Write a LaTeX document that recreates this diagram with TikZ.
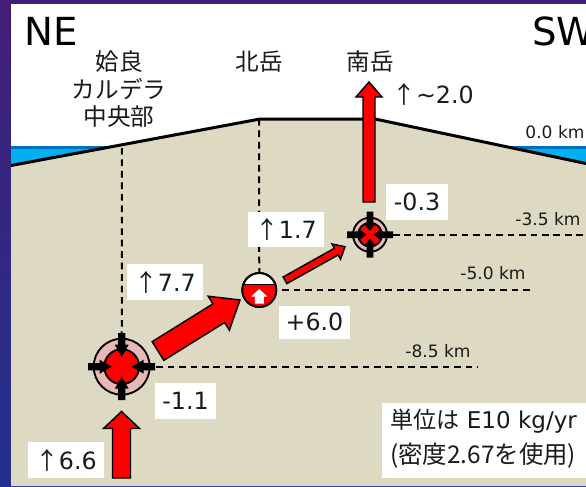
\documentclass[tikz,border=0pt]{standalone}
\usepackage{fontspec}
\setmainfont{DejaVu Sans}
\newfontfamily\jafont{Noto Sans CJK JP}
\usetikzlibrary{calc}
\definecolor{ground}{HTML}{DDD9C3}
\definecolor{sea}{HTML}{00B0F0}
\definecolor{seatop}{HTML}{0070C0}
\definecolor{ringpink}{HTML}{E6B9B8}
\definecolor{inktext}{HTML}{1A1A1A}
\definecolor{backtop}{HTML}{421E78}
\definecolor{backbottom}{HTML}{21308C}
\newcommand{\upmark}{{\jafont ↑}}
\tikzset{
  x=0.75pt, y=-0.75pt,
  surface/.style={line width=3pt*0.75, draw=black},
  depthline/.style={draw=black, line width=1.5pt, dash pattern=on 5pt off 3.6pt},
  valuebox/.style={fill=white, inner sep=0pt, text=inktext, font=\fontsize{17.8}{20}\selectfont, anchor=center},
  peak/.style={text=inktext, font=\jafont\fontsize{17.7}{20}\selectfont, inner sep=0pt, anchor=center},
  depthlabel/.style={text=inktext, font=\fontsize{12.8}{14}\selectfont, inner sep=0pt, anchor=center},
  compass/.style={text=black, font=\fontsize{29}{31}\selectfont, inner sep=0pt, anchor=base west},
  flowarrow/.style={draw=black, fill=red, line width=1.1pt, line join=miter},
  squeeze/.style={draw=none, fill=black},
  chamberline/.style={draw=black, line width=1.4pt},
}
% Block arrow between two named points: shaft half width, head half width, head length
\newcommand{\blockarrow}[6][flowarrow]{%
  \coordinate (hb) at ($(#3)!#6*0.75pt!(#2)$);
  \path[#1] ($(#2)!#4*0.75pt!90:(#3)$) -- ($(hb)!#4*0.75pt!90:(#3)$) -- ($(hb)!#5*0.75pt!90:(#3)$) -- (#3)
    -- ($(hb)!#5*0.75pt!-90:(#3)$) -- ($(hb)!#4*0.75pt!-90:(#3)$) -- ($(#2)!#4*0.75pt!-90:(#3)$) -- cycle;
}
% Four black arrows pressing inwards on a named chamber
\newcommand{\pressure}[6]{%
  \foreach \ang in {0,90,180,270} {
    \coordinate (po) at ($(#1)+(\ang:#2)$);
    \coordinate (pi) at ($(#1)+(\ang:#3)$);
    \blockarrow[squeeze]{po}{pi}{#4}{#5}{#6}
  }
}
\begin{document}
\begin{tikzpicture}
\useasboundingbox (0,0) rectangle (586,486);
% slide backdrop
\shade[top color=backtop, bottom color=backbottom] (0,0) rectangle (586,486);
\fill[white] (11,4) rectangle (586,486);
% sea on both flanks
\fill[sea] (11,146) rectangle (140,170);
\fill[sea] (500,146) rectangle (586,175);
\fill[seatop] (11,146) rectangle (125,148.5);
\fill[seatop] (500,146) rectangle (586,148.5);
% ground and its surface
\coordinate (gl) at (11,165.5);
\coordinate (gm1) at (260,119);
\coordinate (gm2) at (375,119);
\coordinate (gr) at (586,163.5);
\fill[ground] (gl) -- (gm1) -- (gm2) -- (gr) -- (586,486) -- (11,486) -- cycle;
\draw[surface] (gl) -- (gm1) -- (gm2) -- (gr);

% named centres
\coordinate (deep) at (121.7,366.7);
\coordinate (mid) at (259.3,290);
\coordinate (shallow) at (370,234.7);
\coordinate (caldtop) at (122,148);
\coordinate (kitatop) at (259,119);
\coordinate (end85) at (478,366.7);
\coordinate (end50) at (530,290);
\coordinate (end35) at (586,234.7);

% depth lines
\draw[depthline] (caldtop) -- (deep);
\draw[depthline] (kitatop) -- (mid);
\draw[depthline] (deep) -- (end85);
\draw[depthline] (mid) -- (end50);
\draw[depthline] (shallow) -- (end35);

% chamber under the caldera
\node[circle, minimum size=56pt*0.75, inner sep=0pt, fill=ringpink, chamberline] (deepring) at (deep) {};
\node[circle, minimum size=35pt*0.75, inner sep=0pt, fill=red, chamberline] (deepcore) at (deep) {};
\pressure{deep}{33.5}{10}{3.6}{7}{12}

% chamber under Kitadake: half empty, with a rising white arrow
\node[circle, minimum size=34pt*0.75, inner sep=0pt, fill=white, chamberline] (midc) at (mid) {};
\begin{scope}
  \clip (mid) circle (17);
  \fill[red] (240,284.3) rectangle (280,310);
  \draw[black, line width=1pt] (240,284.3) -- (280,284.3);
\end{scope}
\draw[chamberline] (mid) circle (17);
\coordinate (wa) at (259.3,303.5);
\coordinate (wb) at (259.3,289);
\blockarrow[{fill=white}]{wa}{wb}{4.5}{8}{7.5}

% chamber under Minamidake
\node[circle, minimum size=34pt*0.75, inner sep=0pt, fill=ringpink, chamberline] (shring) at (shallow) {};
\node[circle, minimum size=24pt*0.75, inner sep=0pt, fill=red, chamberline] (shcore) at (shallow) {};
\pressure{shallow}{23}{3.8}{3.4}{5.6}{7}

% mass-flow arrows
\coordinate (in1) at (121.5,478);
\coordinate (in2) at (121.5,411.5);
\blockarrow{in1}{in2}{9}{18}{17}
\coordinate (a1) at (158,351);
\coordinate (a2) at (240,300);
\blockarrow{a1}{a2}{11}{20}{25}
\coordinate (b1) at (285,280.3);
\coordinate (b2) at (345,246.7);
\blockarrow{b1}{b2}{3.8}{8.7}{10}
\coordinate (c1) at (369,202);
\coordinate (c2) at (369,82);
\blockarrow{c1}{c2}{6}{13}{15}

% value boxes
\node[valuebox, minimum width=76pt*0.75, minimum height=36pt*0.75] (v66) at (66,460) {\upmark 6.6};
\node[valuebox, minimum width=61pt*0.75, minimum height=36pt*0.75] (v11) at (185.5,401) {-1.1};
\node[valuebox, minimum width=76pt*0.75, minimum height=36pt*0.75] (v77) at (165,282) {\upmark 7.7};
\node[valuebox, minimum width=71pt*0.75, minimum height=33pt*0.75] (v60) at (314.5,322) {+6.0};
\node[valuebox, minimum width=76pt*0.75, minimum height=35pt*0.75] (v17) at (286,229.5) {\upmark 1.7};
\node[valuebox, minimum width=62pt*0.75, minimum height=36pt*0.75] (v03) at (417,202) {-0.3};
\node[text=inktext, font=\fontsize{17.8}{20}\selectfont, inner sep=0pt, anchor=center] (v20) at (433,94.5) {\upmark\textasciitilde2.0};

% names of the summits and caldera
\node[peak] (aira1) at (119,62) {姶良};
\node[peak] (aira2) at (119,89) {カルデラ};
\node[peak] (aira3) at (119,117) {中央部};
\node[peak] (kita) at (259,62) {北岳};
\node[peak] (minami) at (370,62) {南岳};

% compass directions
\node[compass] (ne) at (24,45) {NE};
\node[compass] (sw) at (532,45) {SW};

% depth labels
\node[depthlabel] (d0) at (555,132) {0.0 km};
\node[depthlabel] (d35) at (548,219) {-3.5 km};
\node[depthlabel] (d50) at (493,273) {-5.0 km};
\node[depthlabel] (d85) at (438,351) {-8.5 km};

% unit note
\fill[white] (382,403) rectangle (586,478);
\node[text=inktext, inner sep=0pt, anchor=base west, font=\fontsize{17.3}{20}\selectfont] (unit1) at (390,428) {{\jafont 単位は} E10 kg/yr};
\node[text=inktext, inner sep=0pt, anchor=base west, font=\jafont\fontsize{18.3}{20}\selectfont] (unit2) at (390,463) {(密度2.67を使用)};
\end{tikzpicture}
\end{document}
